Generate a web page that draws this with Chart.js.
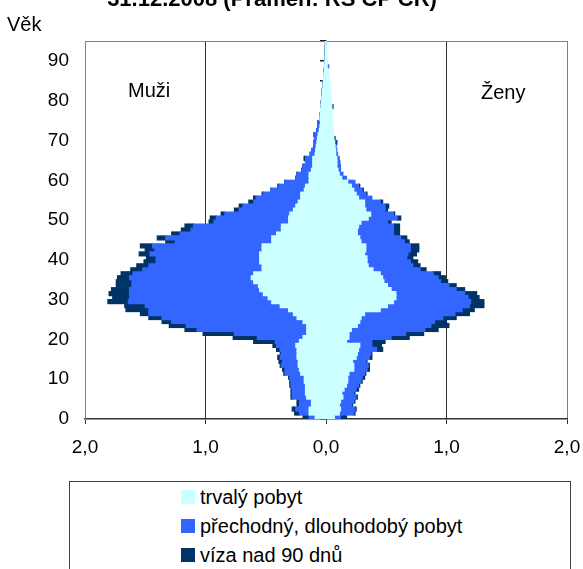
<!DOCTYPE html>
<html lang="cs">
<head>
<meta charset="utf-8">
<title>Věková struktura cizinců</title>
<script src="https://cdn.jsdelivr.net/npm/chart.js@4.4.1/dist/chart.umd.min.js"></script>
<style>
  html, body { margin: 0; padding: 0; background: #fff; }
  body {
    position: relative;
    width: 583px;
    height: 569px;
    overflow: hidden;
    font-family: 'Liberation Sans', Arial, sans-serif;
    color: #000;
  }
  #chartWrap { position: absolute; left: 0; top: 0; width: 583px; height: 569px; }
  .txt { position: absolute; font-size: 20px; line-height: 20px; white-space: nowrap; }
  #title { left: 0; width: 544px; top: -12px; text-align: center; font-weight: bold; font-size: 22px; line-height: 22px; }
  #legend {
    position: absolute;
    left: 69px;
    top: 481px;
    width: 502px;
    height: 120px;
    border: 1px solid #404040;
    box-sizing: border-box;
    background: #fff;
  }
  .legend-item { position: absolute; left: 111px; height: 20px; display: flex; align-items: center; font-size: 20px; white-space: nowrap; }
  .legend-box { width: 14px; height: 14px; margin-right: 5px; }
</style>
</head>
<body>
<div id="chartWrap"><canvas id="pyramid"></canvas></div>
<div id="title" class="txt">31.12.2008 (Pramen: ŘS CP ČR)</div>
<div class="txt" style="left:7px; top:14px;">Věk</div>
<div class="txt" style="left:128px; top:80px;">Muži</div>
<div class="txt" style="left:481px; top:82px;">Ženy</div>
<div id="legend"></div>

<script>
// věk 0–94, hodnoty v % z celkového počtu cizinců
const ages = Array.from({ length: 95 }, (_, i) => i);

const menPermanent = [
  0.09, 0.14, 0.14, 0.12, 0.12, 0.16, 0.17, 0.17, 0.17, 0.18,
  0.18, 0.21, 0.22, 0.23, 0.23, 0.24, 0.24, 0.24, 0.25, 0.22,
  0.19, 0.16, 0.16, 0.16, 0.19, 0.24, 0.27, 0.31, 0.38, 0.45,
  0.48, 0.52, 0.55, 0.56, 0.60, 0.62, 0.60, 0.53, 0.53, 0.55,
  0.55, 0.55, 0.53, 0.53, 0.45, 0.45, 0.41, 0.37, 0.37, 0.31,
  0.31, 0.30, 0.27, 0.25, 0.23, 0.21, 0.21, 0.18, 0.17, 0.14,
  0.14, 0.14, 0.12, 0.11, 0.11, 0.11, 0.09, 0.085, 0.08, 0.075,
  0.07, 0.065, 0.055, 0.05, 0.045, 0.05, 0.048, 0.045, 0.042, 0.04,
  0.035, 0.032, 0.03, 0.025, 0.022, 0.02, 0.018, 0.015, 0.012, 0.01,
  0.008, 0.007, 0.006, 0.005, 0.004
];
const menTemporary = [
  0.05, 0.08, 0.11, 0.10, 0.10, 0.12, 0.11, 0.11, 0.12, 0.11,
  0.12, 0.13, 0.12, 0.14, 0.13, 0.14, 0.13, 0.14, 0.16, 0.20,
  0.38, 0.60, 0.91, 1.00, 1.09, 1.12, 1.20, 1.16, 1.12, 1.19,
  1.15, 1.11, 1.08, 1.05, 1.01, 1.01, 1.00, 0.99, 0.94, 0.86,
  0.86, 0.91, 0.89, 0.91, 0.80, 0.88, 0.80, 0.75, 0.73, 0.62,
  0.60, 0.54, 0.45, 0.44, 0.37, 0.37, 0.31, 0.28, 0.22, 0.20,
  0.11, 0.10, 0.08, 0.08, 0.06, 0.06, 0.04, 0.03, 0.02, 0.025,
  0.025, 0.035, 0.02, 0.015, 0.02, 0, 0, 0, 0, 0,
  0, 0, 0, 0, 0, 0, 0, 0, 0, 0,
  0, 0, 0, 0, 0
];
const menVisa = [
  0.05, 0.04, 0.03, 0.02, 0.02, 0.01, 0.01, 0.01, 0.01, 0.01,
  0.01, 0.01, 0.02, 0.01, 0.03, 0.02, 0.01, 0.03, 0.03, 0.18,
  0.20, 0.26, 0.10, 0.14, 0.08, 0.11, 0.07, 0.19, 0.17, 0.17,
  0.14, 0.17, 0.15, 0.13, 0.13, 0.10, 0.10, 0.10, 0.10, 0.10,
  0.08, 0.09, 0.08, 0.10, 0.08, 0.07, 0.07, 0.08, 0.07, 0.04,
  0.05, 0.03, 0.04, 0.03, 0.04, 0.02, 0.01, 0, 0.01, 0,
  0, 0, 0, 0, 0, 0.01, 0, 0, 0, 0,
  0, 0, 0, 0, 0, 0, 0, 0, 0, 0,
  0, 0, 0, 0, 0, 0, 0, 0, 0, 0,
  0, 0, 0, 0, 0
];

const womenPermanent = [
  0.07, 0.11, 0.12, 0.11, 0.12, 0.14, 0.13, 0.15, 0.17, 0.18,
  0.18, 0.19, 0.23, 0.23, 0.22, 0.25, 0.26, 0.27, 0.28, 0.17,
  0.19, 0.19, 0.21, 0.26, 0.28, 0.29, 0.32, 0.45, 0.51, 0.56,
  0.58, 0.58, 0.54, 0.51, 0.48, 0.47, 0.45, 0.39, 0.35, 0.34,
  0.34, 0.32, 0.33, 0.33, 0.29, 0.28, 0.26, 0.26, 0.27, 0.29,
  0.35, 0.37, 0.33, 0.32, 0.32, 0.27, 0.25, 0.23, 0.21, 0.18,
  0.13, 0.11, 0.10, 0.09, 0.09, 0.09, 0.08, 0.08, 0.075, 0.07,
  0.065, 0.06, 0.06, 0.055, 0.055, 0.05, 0.05, 0.05, 0.048, 0.045,
  0.042, 0.04, 0.038, 0.035, 0.03, 0.028, 0.025, 0.02, 0.01, 0.01,
  0.008, 0.007, 0.006, 0.005, 0.004
];
const womenTemporary = [
  0.05, 0.12, 0.12, 0.10, 0.11, 0.11, 0.10, 0.10, 0.10, 0.11,
  0.12, 0.13, 0.11, 0.12, 0.11, 0.11, 0.11, 0.15, 0.10, 0.21,
  0.35, 0.47, 0.61, 0.61, 0.62, 0.68, 0.75, 0.68, 0.68, 0.64,
  0.60, 0.57, 0.54, 0.51, 0.47, 0.46, 0.44, 0.39, 0.37, 0.36,
  0.33, 0.36, 0.37, 0.37, 0.36, 0.34, 0.30, 0.30, 0.29, 0.22,
  0.24, 0.19, 0.16, 0.17, 0.13, 0.11, 0.08, 0.07, 0.06, 0.06,
  0.04, 0.03, 0.02, 0.03, 0.025, 0.02, 0.015, 0.01, 0.01, 0.01,
  0, 0, 0, 0, 0, 0, 0, 0, 0, 0,
  0, 0, 0, 0, 0, 0, 0, 0, 0.012, 0,
  0, 0, 0, 0, 0
];
const womenVisa = [
  0.05, 0.01, 0.01, 0.01, 0.01, 0.01, 0.01, 0.02, 0.01, 0.01,
  0.02, 0.01, 0.02, 0.01, 0.01, 0.02, 0.01, 0.05, 0.08, 0.11,
  0.15, 0.15, 0.11, 0.15, 0.10, 0.11, 0.12, 0.10, 0.12, 0.11,
  0.09, 0.10, 0.07, 0.06, 0.06, 0.06, 0.06, 0.05, 0.06, 0.06,
  0.05, 0.07, 0.07, 0.07, 0.04, 0.05, 0.05, 0.05, 0.05, 0.03,
  0.03, 0.01, 0.02, 0.03, 0.02, 0, 0.01, 0.01, 0.01, 0,
  0, 0, 0, 0, 0, 0, 0, 0, 0, 0.01,
  0.01, 0, 0, 0, 0, 0, 0, 0, 0.01, 0,
  0, 0, 0, 0, 0, 0, 0, 0, 0, 0,
  0, 0, 0, 0, 0
];

const seriesNames = ['trvalý pobyt', 'přechodný, dlouhodobý pobyt', 'víza nad 90 dnů'];
const seriesColors = ['#CCFFFF', '#3366FF', '#003366'];

const FONT = "'Liberation Sans', Arial, sans-serif";

function buildDatasets() {
  const men = [menPermanent, menTemporary, menVisa];
  const women = [womenPermanent, womenTemporary, womenVisa];
  const common = { stack: 'pyramid', borderWidth: 0, inflateAmount: 0.6, barPercentage: 1, categoryPercentage: 1 };
  const sets = [];
  men.forEach((values, i) => {
    sets.push({ ...common, label: seriesNames[i] + ' (muži)', data: values.map((v) => -v), backgroundColor: seriesColors[i] });
  });
  women.forEach((values, i) => {
    sets.push({ ...common, label: seriesNames[i] + ' (ženy)', data: values, backgroundColor: seriesColors[i] });
  });
  return sets;
}

function renderLegend() {
  const box = document.getElementById('legend');
  seriesNames.forEach((name, i) => {
    const item = document.createElement('div');
    item.className = 'legend-item';
    item.style.top = (5 + i * 29) + 'px';
    const swatch = document.createElement('span');
    swatch.className = 'legend-box';
    swatch.style.background = seriesColors[i];
    const label = document.createElement('span');
    label.textContent = name;
    item.append(swatch, label);
    box.appendChild(item);
  });
}

function initPyramid() {
  const ctx = document.getElementById('pyramid').getContext('2d');
  new Chart(ctx, {
    type: 'bar',
    data: { labels: ages.map(String), datasets: buildDatasets() },
    options: {
      indexAxis: 'y',
      responsive: true,
      maintainAspectRatio: false,
      animation: false,
      layout: { padding: { left: 0, right: 16, top: 41, bottom: 110 } },
      plugins: { legend: { display: false }, tooltip: { enabled: false } },
      scales: {
        x: {
          type: 'linear',
          min: -2,
          max: 2,
          stacked: true,
          afterFit: (scale) => {
            scale.height = 40;
            scale.paddingLeft = 0;
            scale.paddingRight = 0;
          },
          ticks: {
            stepSize: 1,
            maxRotation: 0,
            padding: 12,
            color: '#000',
            font: { family: FONT, size: 19 },
            callback: (v) => Math.abs(v).toFixed(1).replace('.', ',')
          },
          grid: {
            color: (c) => (c.tick && Math.abs(c.tick.value) === 2 ? '#808080' : '#333333'),
            lineWidth: 1,
            drawTicks: true,
            tickLength: 5,
            tickColor: '#333333'
          },
          border: { display: true, color: '#333333', width: 1.5 }
        },
        xTop: {
          type: 'linear',
          axis: 'x',
          position: 'top',
          min: -2,
          max: 2,
          afterFit: (scale) => {
            scale.height = 0;
            scale.paddingLeft = 0;
            scale.paddingRight = 0;
          },
          ticks: { display: false },
          grid: { display: false, drawTicks: false },
          border: { display: true, color: '#808080', width: 1 }
        },
        y: {
          type: 'category',
          position: 'left',
          reverse: true,
          stacked: true,
          offset: true,
          afterFit: (scale) => { scale.width = 85; },
          grid: { display: false, drawTicks: false },
          border: { display: true, color: '#808080', width: 1 },
          ticks: {
            autoSkip: false,
            padding: 16,
            labelOffset: 2,
            color: '#000',
            font: { family: FONT, size: 19 },
            callback: (v, i) => (ages[i] % 10 === 0 ? String(ages[i]) : '')
          }
        },
        yMid: {
          type: 'category',
          axis: 'y',
          position: { x: 0 },
          reverse: true,
          offset: true,
          z: 1,
          ticks: { display: false },
          grid: {
            offset: true,
            drawOnChartArea: false,
            drawTicks: true,
            tickLength: 5,
            lineWidth: 1.5,
            tickColor: (c) => (c.index === undefined || c.index % 5 === 0 ? '#222222' : 'rgba(0,0,0,0)')
          },
          border: { display: true, color: '#333333', width: 1.5 }
        }
      }
    }
  });
}

document.addEventListener('DOMContentLoaded', () => {
  renderLegend();
  initPyramid();
});
</script>
</body>
</html>
